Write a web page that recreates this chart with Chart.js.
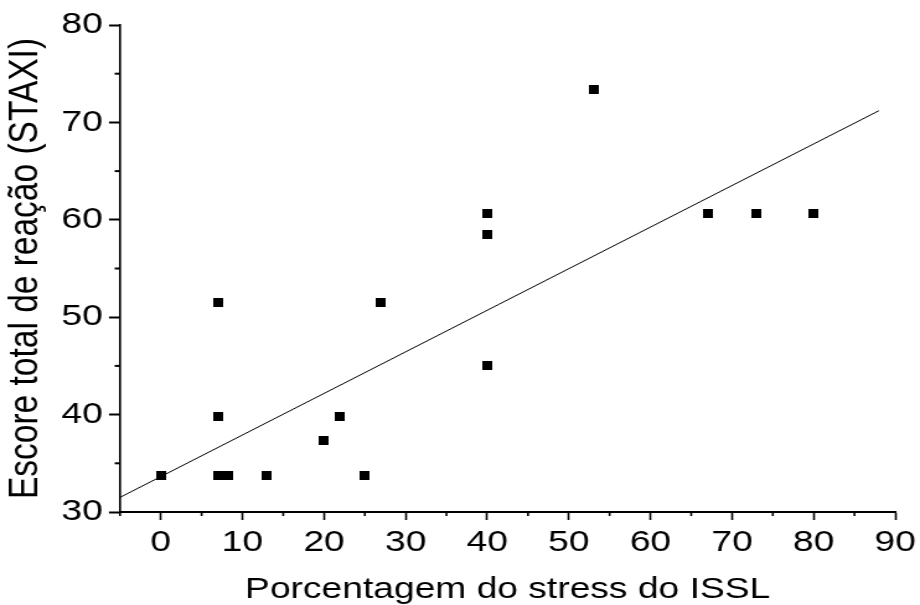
<!DOCTYPE html>
<html>
<head>
<meta charset="utf-8">
<script src="https://cdn.jsdelivr.net/npm/chart.js@4"></script>
<style>
  body { margin: 0; background: #fff; }
</style>
</head>
<body>
<!-- o original está esticado na horizontal -->
<canvas id="grafico" width="742" height="605" style="width:920px;height:605px;display:block"></canvas>
<script>
// Pontos
const stressIssl = [0, 7, 7, 7, 8.3, 13, 20, 22, 25, 27, 40, 40, 40, 53, 67, 73, 80];
const escoreStaxi = [33.7, 51.5, 39.8, 33.7, 33.7, 33.7, 37.3, 39.8, 33.7, 51.5, 45, 60.6, 58.5, 73.4, 60.6, 60.6, 60.6];

// Reta de regressão (extremos)
const retaX = [-5, 88];
const retaY = [31.5, 71.2];

const xMin = -5, xMax = 90;
const yMin = 30, yMax = 80;
const passo = 5;

const fonte = "'Liberation Sans', Arial, sans-serif";

// marcador quadrado preto
const marcador = document.createElement("canvas");
marcador.width = 8;
marcador.height = 9;
const mctx = marcador.getContext("2d");
mctx.fillStyle = "#000";
mctx.fillRect(0, 0, 8, 9);

const pontos = stressIssl.map((x, i) => ({ x: x, y: escoreStaxi[i] }));
const reta = retaX.map((x, i) => ({ x: x, y: retaY[i] }));

const ehMaior = v => v % 10 === 0;

// ticks menores (mais curtos)
const ticksMenores = {
    id: "ticksMenores",
    afterDraw(chart) {
        const ctx = chart.ctx;
        const sx = chart.scales.x;
        const sy = chart.scales.y;
        ctx.save();
        ctx.strokeStyle = "#000";
        ctx.lineWidth = 1.6;
        sx.ticks.forEach(t => {
            if (ehMaior(t.value)) return;
            const px = sx.getPixelForValue(t.value);
            ctx.beginPath();
            ctx.moveTo(px, sx.top);
            ctx.lineTo(px, sx.top + 4);
            ctx.stroke();
        });
        ctx.lineWidth = 2;
        sy.ticks.forEach(t => {
            if (ehMaior(t.value)) return;
            const py = sy.getPixelForValue(t.value);
            ctx.beginPath();
            ctx.moveTo(sy.right, py);
            ctx.lineTo(sy.right - 4.3, py);
            ctx.stroke();
        });
        ctx.restore();
    }
};

new Chart(document.getElementById("grafico"), {
    type: "scatter",
    data: {
        datasets: [
            {
                label: "Escore",
                data: pontos,
                pointStyle: marcador,
                pointRadius: 5,
                pointHoverRadius: 5,
                order: 1
            },
            {
                label: "Reta",
                data: reta,
                showLine: true,
                borderColor: "#000",
                borderWidth: 1,
                pointRadius: 0,
                fill: false,
                order: 2
            }
        ]
    },
    options: {
        responsive: false,
        devicePixelRatio: 1,
        animation: false,
        layout: { padding: { top: 25, right: 20, left: 0, bottom: 0 } },
        plugins: {
            legend: { display: false },
            tooltip: { enabled: false }
        },
        scales: {
            x: {
                type: "linear",
                min: xMin,
                max: xMax,
                afterFit: s => {
                    s.height = 93;
                    s.paddingLeft = 0;
                    s.paddingRight = 0;
                },
                border: { display: true, color: "#000", width: 2 },
                grid: {
                    drawOnChartArea: false,
                    drawTicks: true,
                    tickLength: 8,
                    tickWidth: 1.6,
                    tickColor: c => ehMaior(c.tick.value) ? "#000" : "rgba(0,0,0,0)"
                },
                ticks: {
                    stepSize: passo,
                    autoSkip: false,
                    maxRotation: 0,
                    padding: 5,
                    color: "#000",
                    font: { family: fonte, size: 30 },
                    callback: v => ehMaior(v) ? v : ""
                },
                title: {
                    display: true,
                    text: "Porcentagem do stress do ISSL",
                    color: "#000",
                    padding: 0,
                    font: { family: fonte, size: 30, lineHeight: 1 }
                }
            },
            y: {
                type: "linear",
                min: yMin,
                max: yMax,
                afterFit: s => { s.width = 96.8; },
                border: { display: true, color: "#000", width: 1.6 },
                grid: {
                    drawOnChartArea: false,
                    drawTicks: true,
                    tickLength: 8.9,
                    tickWidth: 2,
                    tickColor: c => ehMaior(c.tick.value) ? "#000" : "rgba(0,0,0,0)"
                },
                ticks: {
                    stepSize: passo,
                    autoSkip: false,
                    padding: 5,
                    color: "#000",
                    font: { family: fonte, size: 30 },
                    callback: v => ehMaior(v) ? v : ""
                },
                title: {
                    display: true,
                    text: "Escore total de reação (STAXI)",
                    color: "#000",
                    padding: { top: 4, bottom: 0 },
                    font: { family: fonte, size: 33.5, lineHeight: 1 }
                }
            }
        }
    },
    plugins: [ticksMenores]
});
</script>
</body>
</html>
